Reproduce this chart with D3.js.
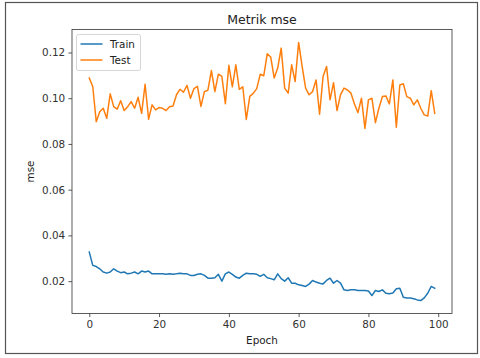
<!DOCTYPE html>
<html><head><meta charset="utf-8">
<script src="https://cdn.jsdelivr.net/npm/d3@7"></script>
<style>
html,body{margin:0;padding:0;background:#fff;}
svg{display:block;font-family:"DejaVu Sans",sans-serif;}
</style></head>
<body>
<svg id="chart" width="480" height="358"></svg>
<script>
const title = "Metrik mse";
const xLabel = "Epoch";
const yLabel = "mse";
const seriesNames = ["Train", "Test"];
const seriesColors = ["#1f77b4", "#ff7f0e"];
const xTicks = [0, 20, 40, 60, 80, 100];
const yTicks = [0.02, 0.04, 0.06, 0.08, 0.10, 0.12];

const trainValues = [
0.0327,0.0269,0.0264,0.0254,0.0240,0.0235,0.0240,0.0254,0.0244,0.0237,
0.0240,0.0232,0.0235,0.0240,0.0232,0.0244,0.0240,0.0244,0.0232,0.0232,
0.0232,0.0232,0.0230,0.0232,0.0230,0.0232,0.0235,0.0232,0.0232,0.0225,
0.0225,0.0230,0.0232,0.0225,0.0213,0.0213,0.0215,0.0230,0.0200,0.0232,
0.0240,0.0230,0.0218,0.0213,0.0225,0.0235,0.0232,0.0232,0.0230,0.0221,
0.0230,0.0215,0.0211,0.0206,0.0232,0.0211,0.0200,0.0215,0.0191,0.0191,
0.0184,0.0181,0.0177,0.0187,0.0203,0.0196,0.0191,0.0188,0.0203,0.0213,
0.0191,0.0203,0.0191,0.0162,0.0159,0.0162,0.0162,0.0159,0.0159,0.0159,
0.0157,0.0137,0.0159,0.0155,0.0162,0.0147,0.0145,0.0148,0.0167,0.0169,
0.0130,0.0126,0.0126,0.0123,0.0118,0.0115,0.0127,0.0147,0.0177,0.0169];

const testValues = [
0.1088,0.1051,0.0897,0.0941,0.0956,0.0912,0.1019,0.0963,0.0952,0.0989,
0.0946,0.0963,0.0985,0.0956,0.1004,0.0934,0.1061,0.0908,0.0971,0.0949,
0.0959,0.0956,0.0946,0.0963,0.0966,0.1015,0.1039,0.1026,0.1056,0.1000,
0.1042,0.1052,0.0964,0.1029,0.1035,0.1121,0.1029,0.1105,0.1095,0.0976,
0.1144,0.1050,0.1146,0.1039,0.1050,0.0907,0.1008,0.1021,0.1042,0.1105,
0.1098,0.1194,0.1180,0.1088,0.1132,0.1219,0.1044,0.1022,0.1146,0.1073,
0.1244,0.1139,0.1044,0.1015,0.1029,0.1080,0.0930,0.1095,0.1139,0.0993,
0.1068,0.0946,0.1015,0.1044,0.1036,0.1022,0.0975,0.0937,0.1000,0.0868,
0.0993,0.1000,0.0893,0.0956,0.1007,0.1010,0.0975,0.1080,0.0873,0.1058,
0.1063,0.1007,0.1000,0.0971,0.0993,0.0956,0.0927,0.0922,0.1033,0.0934];

(function () {
const svg = d3.select("#chart");
const mLeft = 72, mRight = 452, mTop = 29.5, mBottom = 313.5;

// outer frame
svg.append("rect").attr("x", 5.5).attr("y", 2.5).attr("width", 472).attr("height", 351)
  .attr("fill", "#fff").attr("stroke", "#555").attr("stroke-width", 1.2);

const epochs = d3.range(trainValues.length);
const n = trainValues.length;
const xMargin = (n - 1) * 0.05;
const x = d3.scaleLinear().domain([-xMargin, (n - 1) + xMargin]).range([mLeft, mRight]);
const all = trainValues.concat(testValues);
const [ymin, ymax] = d3.extent(all);
const yr = ymax - ymin;
const y = d3.scaleLinear().domain([ymin - 0.05 * yr, ymax + 0.05 * yr]).range([mBottom, mTop]);

const xAxis = d3.axisBottom(x).tickValues(xTicks).tickFormat(d3.format("d")).tickSize(3.6).tickPadding(3.2);
const yAxis = d3.axisLeft(y).tickValues(yTicks).tickFormat(d3.format(".2f")).tickSize(3.6).tickPadding(3.2);

const gx = svg.append("g").attr("transform", `translate(0,${mBottom})`).call(xAxis);
const gy = svg.append("g").attr("transform", `translate(${mLeft},0)`).call(yAxis);
[gx, gy].forEach(g => {
  g.select(".domain").remove();
  g.selectAll(".tick line").attr("stroke", "#333").attr("stroke-width", 0.8);
  g.selectAll(".tick text").attr("fill", "#333").style("font-size", "10.4px").style("font-family", "DejaVu Sans");
});

const line = d3.line().x((d, i) => x(epochs[i])).y(d => y(d));
[trainValues, testValues].forEach((vals, k) => {
  svg.append("path").datum(vals).attr("d", line)
    .attr("fill", "none").attr("stroke", seriesColors[k]).attr("stroke-width", 1.5)
    .attr("stroke-linejoin", "round").attr("stroke-linecap", "square");
});

svg.append("rect").attr("x", mLeft).attr("y", mTop).attr("width", mRight - mLeft).attr("height", mBottom - mTop)
  .attr("fill", "none").attr("stroke", "#333").attr("stroke-width", 0.8);

svg.append("text").attr("x", (mLeft + mRight) / 2).attr("y", 23.5).attr("text-anchor", "middle")
  .style("font-size", "12.5px").attr("fill", "#222").text(title);
svg.append("text").attr("x", (mLeft + mRight) / 2).attr("y", 344).attr("text-anchor", "middle")
  .style("font-size", "10.4px").attr("fill", "#222").text(xLabel);
svg.append("text").attr("transform", `translate(34,${(mTop + mBottom) / 2}) rotate(-90)`).attr("text-anchor", "middle")
  .style("font-size", "10.4px").attr("fill", "#222").text(yLabel);

const lg = svg.append("g");
lg.append("rect").attr("x", 76.5).attr("y", 34.5).attr("width", 64).attr("height", 36).attr("rx", 2)
  .attr("fill", "#fff").attr("fill-opacity", 0.8).attr("stroke", "#ccc").attr("stroke-width", 0.8);
seriesNames.forEach((name, k) => {
  const ly = 44 + k * 16;
  lg.append("line").attr("x1", 80.5).attr("x2", 102.5).attr("y1", ly).attr("y2", ly)
    .attr("stroke", seriesColors[k]).attr("stroke-width", 1.5);
  lg.append("text").attr("x", 110).attr("y", ly + 3.8).style("font-size", "10.4px").attr("fill", "#222").text(name);
});
})();
</script>
</body></html>
